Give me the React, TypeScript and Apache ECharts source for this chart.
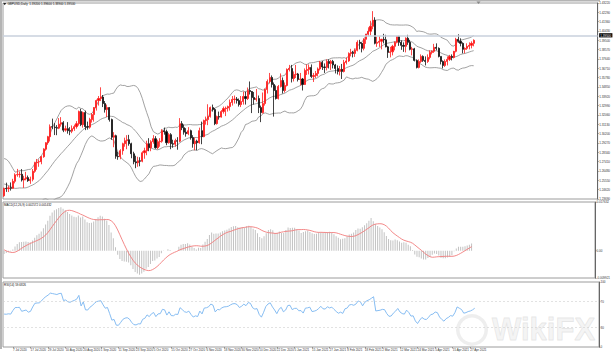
import React, { useEffect, useRef } from "react";
import * as echarts from "echarts";

// ---- calendar (trading days shown) ----
const julDays = [1,2,3,6,7,8,9,10,13,14,15,16,17,20,21,22,23,24,27,28,29,30,31];
const augDays = [3,4,5,6,7,10,11,12,13,14,17,18,19,20,21,24,25,26,27,28,31];
const sepDays = [1,2,3,4,7,8,9,10,11,14,15,16,17,18,21,22,23,24,25,28,29,30];
const octDays = [1,2,5,6,7,8,9,12,13,14,15,16,19,20,21,22,23,26,27,28,29,30];
const novDays = [2,3,4,5,6,9,10,11,12,13,16,17,18,19,20,23,24,25,26,27,30];
const decDays = [1,2,3,4,7,8,9,10,11,14,15,16,17,18,21,22,23,24,28,29,30,31];
const janDays = [4,5,6,7,8,11,12,13,14,15,18,19,20,21,22,25,26,27,28,29];
const febDays = [1,2,3,4,5,8,9,10,11,12,15,16,17,18,19,22,23,24,25,26];
const marDays = [1,2,3,4,5,8,9,10,11,12,15,16,17,18,19,22,23,24,25,26,29,30,31];
const aprDays = [1,2,5,6,7,8,9,12,13,14,15,16,19,20,21,22,23,26,27,28,29];

// ---- GBPUSD daily OHLC ----
const opens = [
  1.2401,1.2475,1.2472,1.2482,1.2475,1.2545,1.2610,1.2612,1.2615,1.2558,1.2570,1.2582,1.2552,1.2565,1.2645,1.2730,1.2738,1.2741,1.2790,1.2865,1.2930,1.2990,1.3090,
  1.3085,1.3080,1.3075,1.3115,1.3130,1.3055,1.3070,1.3050,1.3045,1.3070,1.3090,1.3120,1.3240,1.3110,1.3230,1.3090,1.3085,1.3160,1.3210,1.3280,1.3350,
  1.3370,1.3385,1.3320,1.3260,1.3280,1.3160,1.2985,1.3000,1.2795,1.2790,1.2850,1.2920,1.2950,1.2960,1.2920,1.2820,1.2740,1.2730,1.2750,1.2745,1.2830,1.2850,
  1.2920,1.2880,1.2940,1.2970,1.2880,1.2940,1.2945,1.3050,1.3040,1.2930,1.3010,1.2920,1.2915,1.2950,1.2945,1.3120,1.3080,1.3035,1.3020,1.3050,1.2980,1.2920,
  1.2945,1.2930,1.3050,1.2990,1.3150,1.3160,1.3190,1.3280,1.3260,1.3120,1.3190,1.3185,1.3240,1.3270,1.3275,1.3290,1.3330,1.3360,1.3365,1.3350,1.3310,
  1.3340,1.3390,1.3370,1.3450,1.3440,1.3380,1.3360,1.3370,1.3280,1.3230,1.3320,1.3460,1.3540,1.3580,1.3510,1.3450,1.3370,1.3490,1.3550,1.3450,1.3500,1.3660,
  1.3670,1.3570,1.3610,1.3615,1.3560,1.3565,1.3510,1.3650,1.3660,1.3680,1.3590,1.3600,1.3620,1.3665,1.3730,1.3685,1.3680,1.3740,1.3720,1.3740,
  1.3705,1.3670,1.3640,1.3660,1.3640,1.3730,1.3745,1.3820,1.3830,1.3820,1.3850,1.3930,1.3920,1.3870,1.3960,1.4010,1.4040,1.4090,1.4150,1.3920,
  1.3930,1.3940,1.3960,1.3955,1.3885,1.3830,1.3835,1.3890,1.3930,1.3990,1.3930,1.3900,1.3890,1.3970,1.3930,1.3860,1.3865,1.3750,1.3680,1.3740,1.3790,1.3750,1.3740,
  1.3780,1.3830,1.3840,1.3880,1.3870,1.3790,1.3740,1.3700,1.3740,1.3760,1.3790,1.3780,1.3840,1.3960,1.3940,1.3920,1.3860,1.3870,1.3890,1.3900,1.3920,
];
const highs = [
  1.2482,1.2532,1.2501,1.2534,1.2570,1.2625,1.2669,1.2644,1.2667,1.2600,1.2640,1.2603,1.2592,1.2668,1.2740,1.2768,1.2763,1.2800,1.2875,1.2935,1.2998,1.3112,1.3170,
  1.3125,1.3105,1.3175,1.3185,1.3145,1.3100,1.3135,1.3085,1.3102,1.3110,1.3145,1.3250,1.3267,1.3240,1.3250,1.3140,1.3178,1.3225,1.3285,1.3360,1.3395,
  1.3482,1.3405,1.3345,1.3310,1.3285,1.3170,1.3035,1.3010,1.2840,1.2865,1.2930,1.2980,1.3005,1.3008,1.2930,1.2840,1.2800,1.2790,1.2785,1.2845,1.2880,1.2950,
  1.2975,1.2955,1.3005,1.2995,1.2960,1.2975,1.3065,1.3080,1.3060,1.3025,1.3025,1.2960,1.2970,1.2985,1.3175,1.3145,1.3110,1.3075,1.3085,1.3060,1.3005,1.2980,
  1.2960,1.3080,1.3140,1.3160,1.3190,1.3313,1.3290,1.3310,1.3275,1.3200,1.3240,1.3255,1.3290,1.3290,1.3300,1.3360,1.3395,1.3400,1.3385,1.3370,1.3395,
  1.3440,1.3440,1.3480,1.3540,1.3445,1.3435,1.3465,1.3400,1.3300,1.3430,1.3470,1.3560,1.3625,1.3600,1.3530,1.3500,1.3505,1.3620,1.3580,1.3530,1.3670,1.3705,
  1.3705,1.3640,1.3705,1.3625,1.3625,1.3575,1.3670,1.3710,1.3710,1.3710,1.3625,1.3645,1.3680,1.3745,1.3745,1.3720,1.3760,1.3760,1.3755,1.3755,
  1.3715,1.3700,1.3695,1.3715,1.3755,1.3780,1.3830,1.3865,1.3845,1.3870,1.3950,1.3955,1.3930,1.3970,1.4015,1.4080,1.4145,1.4241,1.4180,1.3985,
  1.3990,1.3965,1.4015,1.4005,1.3895,1.3885,1.3905,1.3940,1.3990,1.3995,1.3950,1.3930,1.3980,1.4005,1.3955,1.3885,1.3875,1.3760,1.3760,1.3810,1.3800,1.3790,1.3810,
  1.3850,1.3850,1.3915,1.3920,1.3880,1.3790,1.3750,1.3760,1.3790,1.3805,1.3810,1.3845,1.3975,1.4010,1.3970,1.3930,1.3880,1.3920,1.3930,1.3940,1.3960,
];
const lows = [
  1.2390,1.2440,1.2438,1.2453,1.2470,1.2525,1.2591,1.2582,1.2543,1.2480,1.2555,1.2540,1.2520,1.2545,1.2630,1.2660,1.2690,1.2715,1.2780,1.2850,1.2910,1.2942,1.3065,
  1.3006,1.3005,1.3065,1.3090,1.3035,1.3040,1.3020,1.3005,1.3025,1.3048,1.3070,1.3100,1.3095,1.3080,1.3055,1.3060,1.3070,1.3130,1.3140,1.3250,1.3300,
  1.3345,1.3285,1.3230,1.3185,1.3140,1.2960,1.2885,1.2770,1.2760,1.2765,1.2810,1.2890,1.2865,1.2900,1.2775,1.2715,1.2676,1.2690,1.2695,1.2735,1.2770,1.2805,
  1.2845,1.2845,1.2920,1.2870,1.2865,1.2890,1.2930,1.3010,1.2905,1.2920,1.2865,1.2880,1.2890,1.2860,1.2935,1.3055,1.3010,1.2990,1.3005,1.2960,1.2880,1.2855,
  1.2855,1.2920,1.2915,1.2985,1.3110,1.3105,1.3180,1.3240,1.3105,1.3110,1.3160,1.3180,1.3220,1.3195,1.3240,1.3250,1.3300,1.3320,1.3320,1.3290,1.3285,
  1.3310,1.3310,1.3355,1.3410,1.3225,1.3310,1.3340,1.3225,1.3135,1.3220,1.3300,1.3420,1.3520,1.3480,1.3190,1.3360,1.3360,1.3480,1.3420,1.3430,1.3490,1.3640,
  1.3530,1.3540,1.3575,1.3540,1.3500,1.3450,1.3505,1.3605,1.3610,1.3575,1.3535,1.3575,1.3590,1.3650,1.3655,1.3625,1.3650,1.3670,1.3655,1.3670,
  1.3620,1.3610,1.3600,1.3565,1.3630,1.3710,1.3735,1.3790,1.3780,1.3785,1.3840,1.3860,1.3830,1.3850,1.3915,1.3990,1.4000,1.4060,1.3910,1.3885,
  1.3885,1.3860,1.3920,1.3880,1.3775,1.3780,1.3800,1.3850,1.3920,1.3895,1.3855,1.3835,1.3830,1.3905,1.3850,1.3800,1.3740,1.3670,1.3670,1.3725,1.3735,1.3700,1.3725,
  1.3760,1.3810,1.3825,1.3850,1.3780,1.3710,1.3670,1.3685,1.3700,1.3745,1.3750,1.3770,1.3830,1.3925,1.3890,1.3820,1.3820,1.3855,1.3860,1.3870,1.3890,
];
const closes = [
  1.2475,1.2472,1.2480,1.2475,1.2545,1.2610,1.2612,1.2615,1.2558,1.2570,1.2582,1.2552,1.2565,1.2645,1.2730,1.2738,1.2741,1.2790,1.2865,1.2930,1.2990,1.3090,1.3085,
  1.3080,1.3075,1.3115,1.3130,1.3055,1.3070,1.3050,1.3045,1.3070,1.3090,1.3120,1.3240,1.3110,1.3230,1.3090,1.3085,1.3160,1.3210,1.3280,1.3350,1.3370,
  1.3385,1.3320,1.3260,1.3280,1.3160,1.2985,1.3000,1.2795,1.2790,1.2850,1.2920,1.2950,1.2960,1.2920,1.2820,1.2740,1.2730,1.2750,1.2745,1.2830,1.2850,1.2920,
  1.2880,1.2940,1.2970,1.2880,1.2940,1.2945,1.3050,1.3040,1.2930,1.3010,1.2920,1.2915,1.2950,1.2945,1.3120,1.3080,1.3035,1.3020,1.3050,1.2980,1.2920,1.2945,
  1.2930,1.3050,1.2990,1.3150,1.3160,1.3190,1.3280,1.3260,1.3120,1.3190,1.3185,1.3240,1.3270,1.3275,1.3290,1.3330,1.3360,1.3365,1.3350,1.3310,1.3340,
  1.3390,1.3370,1.3450,1.3440,1.3380,1.3360,1.3370,1.3280,1.3230,1.3320,1.3460,1.3540,1.3580,1.3510,1.3450,1.3370,1.3490,1.3550,1.3450,1.3500,1.3660,1.3670,
  1.3570,1.3610,1.3615,1.3560,1.3565,1.3510,1.3650,1.3660,1.3680,1.3590,1.3600,1.3620,1.3665,1.3730,1.3685,1.3680,1.3740,1.3720,1.3740,1.3705,
  1.3670,1.3640,1.3660,1.3640,1.3730,1.3745,1.3820,1.3830,1.3820,1.3850,1.3930,1.3920,1.3870,1.3960,1.4010,1.4040,1.4090,1.4150,1.3920,1.3930,
  1.3940,1.3960,1.3955,1.3885,1.3830,1.3835,1.3890,1.3930,1.3990,1.3930,1.3900,1.3890,1.3970,1.3930,1.3860,1.3865,1.3750,1.3680,1.3740,1.3790,1.3750,1.3740,1.3780,
  1.3830,1.3840,1.3880,1.3870,1.3790,1.3740,1.3700,1.3740,1.3760,1.3790,1.3780,1.3840,1.3960,1.3940,1.3920,1.3860,1.3870,1.3890,1.3900,1.3920,1.3950,
];
// May–June 2020 closes: history the indicators need before the first visible bar
const historyCloses = [
  1.2490,1.2430,1.2430,1.2340,1.2400,1.2410,1.2330,1.2280,1.2220,1.2210,1.2110,1.2230,1.2230,1.2240,1.2210,1.2170,1.2190,1.2320,1.2270,1.2330,1.2340,
  1.2490,1.2560,1.2580,1.2590,1.2670,1.2720,1.2740,1.2740,1.2590,1.2550,1.2570,1.2560,1.2550,1.2400,1.2350,1.2460,1.2480,1.2420,1.2420,1.2340,1.2350,1.2400,
];

// ---- axis scales ----
const priceMin = 1.2369;
const priceMax = 1.4322;
const priceStep = 0.0093;
const macdMin = -0.009921;
const macdMax = 0.017632;
const rsiTicks = [0, 30, 70, 100];
const rsiLevels = [30, 70];
const futureSlots = 56; // empty chart shift on the right

// ---- build categories ----
const monthBlocks: [number[], string, number][] = [
  [julDays, "Jul", 2020], [augDays, "Aug", 2020], [sepDays, "Sep", 2020], [octDays, "Oct", 2020],
  [novDays, "Nov", 2020], [decDays, "Dec", 2020], [janDays, "Jan", 2021], [febDays, "Feb", 2021],
  [marDays, "Mar", 2021], [aprDays, "Apr", 2021],
];
const dates: string[] = [];
monthBlocks.forEach(([days, m, y]) => days.forEach((d) => dates.push(`${d} ${m} ${y}`)));
const xCats = dates.concat(new Array(futureSlots).fill(""));

// ---- indicators (Bands 20/2, MACD 12/26/9, RSI 14) ----
const allCloses = historyCloses.concat(closes);
const H = historyCloses.length;

function bands() {
  const up: number[] = [], md: number[] = [], lo: number[] = [];
  for (let i = 0; i < closes.length; i++) {
    const k = H + i;
    const win = allCloses.slice(k - 19, k + 1);
    const m = win.reduce((a, b) => a + b, 0) / win.length;
    const sd = Math.sqrt(win.reduce((a, b) => a + (b - m) * (b - m), 0) / win.length);
    md.push(m); up.push(m + 2 * sd); lo.push(m - 2 * sd);
  }
  return { up, md, lo };
}
function ema(arr: number[], p: number) {
  const a = 2 / (p + 1);
  const out = [arr[0]];
  for (let i = 1; i < arr.length; i++) out.push(out[i - 1] + a * (arr[i] - out[i - 1]));
  return out;
}
function macdCalc() {
  const e12 = ema(allCloses, 12), e26 = ema(allCloses, 26);
  const m = allCloses.map((_, i) => e12[i] - e26[i]);
  const s = m.map((_, i) => {
    const w = m.slice(Math.max(0, i - 8), i + 1);
    return w.reduce((a, b) => a + b, 0) / w.length;
  });
  return { main: m.slice(H), signal: s.slice(H) };
}
function rsiCalc() {
  const out: number[] = new Array(allCloses.length).fill(50);
  let ag = 0, al = 0;
  for (let i = 1; i <= 14; i++) {
    const d = allCloses[i] - allCloses[i - 1];
    if (d > 0) ag += d; else al -= d;
  }
  ag /= 14; al /= 14;
  out[14] = al === 0 ? 100 : 100 - 100 / (1 + ag / al);
  for (let i = 15; i < allCloses.length; i++) {
    const d = allCloses[i] - allCloses[i - 1];
    ag = (ag * 13 + (d > 0 ? d : 0)) / 14;
    al = (al * 13 + (d < 0 ? -d : 0)) / 14;
    out[i] = al === 0 ? 100 : 100 - 100 / (1 + ag / al);
  }
  return out.slice(H);
}

export default function App() {
  const ref = useRef<HTMLDivElement>(null);
  useEffect(() => {
    if (!ref.current) return;
    const chart = echarts.init(ref.current, undefined, { renderer: "svg" });
    const bb = bands();
    const macd = macdCalc();
    const rsi = rsiCalc();
    const n = closes.length;
    const last = n - 1;
    const candle = opens.map((o, i) => [o, closes[i], lows[i], highs[i]]);
    const labelFn = (i: number) => i < n && i % 8 === 4;
    const font = "Liberation Sans";
    const small = 3;
    const frame = "#9c9c9c";

    const xBase = (gi: number) => ({
      type: "category", gridIndex: gi, data: xCats, boundaryGap: true,
      axisLine: { show: false }, axisTick: { show: false }, axisLabel: { show: false },
      splitLine: { show: false },
    });
    const yBase = (gi: number) => ({
      type: "value", gridIndex: gi, position: "right", scale: true,
      axisLine: { show: true, lineStyle: { color: "#666", width: 1 } },
      axisTick: { show: true, length: 1.5, lineStyle: { color: "#666", width: 0.5 } },
      splitLine: { show: false },
    });

    const option: any = {
      animation: false,
      backgroundColor: "#ffffff",
      textStyle: { fontFamily: font },
      grid: [
        { left: 3, right: 14, top: 3, height: 196, show: true, borderColor: frame, borderWidth: 1 },
        { left: 3, right: 14, top: 202, height: 76, show: true, borderColor: frame, borderWidth: 1 },
        { left: 3, right: 14, top: 282, height: 65, show: true, borderColor: frame, borderWidth: 1 },
      ],
      xAxis: [
        xBase(0),
        xBase(1),
        {
          ...xBase(2),
          axisLabel: {
            show: true, interval: labelFn, fontSize: small, color: "#333", align: "left",
            margin: 1.5, fontFamily: font,
          },
          axisTick: {
            show: true, interval: labelFn, alignWithLabel: true, length: 1.5,
            lineStyle: { color: "#555", width: 0.5 },
          },
        },
      ],
      yAxis: [
        {
          ...yBase(0), scale: false, min: priceMin, max: priceMax, interval: priceStep,
          axisLabel: { fontSize: small, color: "#333", margin: 1.5, fontFamily: font,
            formatter: (v: number) => v.toFixed(5) },
        },
        {
          ...yBase(1), scale: false, min: macdMin, max: macdMax,
          axisTick: { show: true, length: 1.5, customValues: [macdMin, 0, macdMax], lineStyle: { color: "#666", width: 0.5 } },
          axisLabel: { fontSize: small, color: "#333", margin: 1.5, fontFamily: font,
            customValues: [macdMin, 0, macdMax],
            formatter: (v: number) => (Math.abs(v) < 1e-9 ? "0.00" : v.toFixed(6)) },
        },
        {
          ...yBase(2), scale: false, min: 0, max: 100,
          axisTick: { show: true, length: 1.5, customValues: rsiTicks, lineStyle: { color: "#666", width: 0.5 } },
          axisLabel: { fontSize: small, color: "#333", margin: 1.5, fontFamily: font,
            customValues: rsiTicks, formatter: (v: number) => String(v) },
        },
      ],
      series: [
        {
          type: "line", name: "upper", xAxisIndex: 0, yAxisIndex: 0, data: bb.up, symbol: "none",
          lineStyle: { color: "#8a8a8a", width: 0.8 }, z: 1,
        },
        {
          type: "line", name: "middle", xAxisIndex: 0, yAxisIndex: 0, data: bb.md, symbol: "none",
          lineStyle: { color: "#8a8a8a", width: 0.8 }, z: 1,
        },
        {
          type: "line", name: "lower", xAxisIndex: 0, yAxisIndex: 0, data: bb.lo, symbol: "none",
          lineStyle: { color: "#8a8a8a", width: 0.8 }, z: 1,
        },
        {
          type: "candlestick", name: "GBPUSD", xAxisIndex: 0, yAxisIndex: 0, data: candle,
          barWidth: 1.6, z: 3,
          itemStyle: { color: "#ff0000", color0: "#000000", borderColor: "#ff1a1a", borderColor0: "#111111", borderWidth: 0.8 },
          markLine: {
            silent: true, symbol: ["none", "none"], animation: false,
            data: [{ yAxis: closes[last] }],
            lineStyle: { color: "#c9d0dc", width: 1.6, type: "solid" },
            label: {
              show: true, position: "end", distance: 1.5, formatter: closes[last].toFixed(5),
              backgroundColor: "#000", color: "#fff", fontSize: small, padding: [0.6, 1.2, 0.6, 1.2],
              fontFamily: font,
            },
          },
        },
        {
          type: "bar", name: "MACD", xAxisIndex: 1, yAxisIndex: 1, data: macd.main,
          barWidth: 0.9, itemStyle: { color: "#c2c2c2" },
        },
        {
          type: "line", name: "Signal", xAxisIndex: 1, yAxisIndex: 1, data: macd.signal, symbol: "none",
          lineStyle: { color: "#f27c7c", width: 0.9 },
        },
        {
          type: "line", name: "RSI", xAxisIndex: 2, yAxisIndex: 2, data: rsi, symbol: "none",
          lineStyle: { color: "#79b6f0", width: 0.9 }, z: 3,
          markLine: {
            silent: true, symbol: ["none", "none"], animation: false,
            data: rsiLevels.map((v) => ({ yAxis: v })),
            lineStyle: { color: "#cfcfcf", width: 0.6, type: [2, 2] },
            label: { show: false },
          },
        },
      ],
      graphic: [
        { type: "rect", silent: true, shape: { x: 0, y: 0, width: 2, height: 349 }, style: { fill: "#b4b4b4" } },
        { type: "rect", silent: true, shape: { x: 0, y: 0, width: 600, height: 1.5 }, style: { fill: "#b4b4b4" } },
        { type: "polygon", silent: true, shape: { points: [[3.2, 3], [6.2, 3], [4.7, 5.2]] }, style: { fill: "#222" } },
        { type: "polygon", silent: true, shape: { points: [[476.5, 1.6], [480.5, 1.6], [478.5, 4]] }, style: { fill: "#888" } },
        {
          type: "text", silent: true, x: 7.5, y: 2.6,
          style: {
            text: `GBPUSD,Daily  ${opens[last].toFixed(5)} ${highs[last].toFixed(5)} ${lows[last].toFixed(5)} ${closes[last].toFixed(5)}`,
            fontSize: small, fill: "#111", fontFamily: font,
          },
        },
        {
          type: "text", silent: true, x: 4, y: 203.5,
          style: {
            text: `MACD(12,26,9) ${macd.main[last].toFixed(6)} ${macd.signal[last].toFixed(6)}`,
            fontSize: small, fill: "#111", fontFamily: font,
          },
        },
        {
          type: "text", silent: true, x: 4, y: 283.5,
          style: { text: `RSI(14) ${rsi[last].toFixed(4)}`, fontSize: small, fill: "#111", fontFamily: font },
        },
        {
          type: "ring", silent: true, z: -1, shape: { cx: 472, cy: 330, r: 16, r0: 12.5 },
          style: { fill: "rgba(205,205,205,0.35)" },
        },
        {
          type: "text", silent: true, z: -1, x: 492, y: 314,
          style: {
            text: "WikiFX", fontSize: 31, fontWeight: "bold", fontFamily: font,
            fill: "rgba(232,232,232,0.45)", stroke: "rgba(200,200,200,0.45)", lineWidth: 0.8,
          },
        },
      ],
    };
    chart.setOption(option);
    return () => chart.dispose();
  }, []);

  return (
    <div style={{ position: "fixed", left: 0, top: 0, width: 613, height: 354, background: "#fff" }}>
      <div ref={ref} style={{ width: 613, height: 354 }} />
    </div>
  );
}
